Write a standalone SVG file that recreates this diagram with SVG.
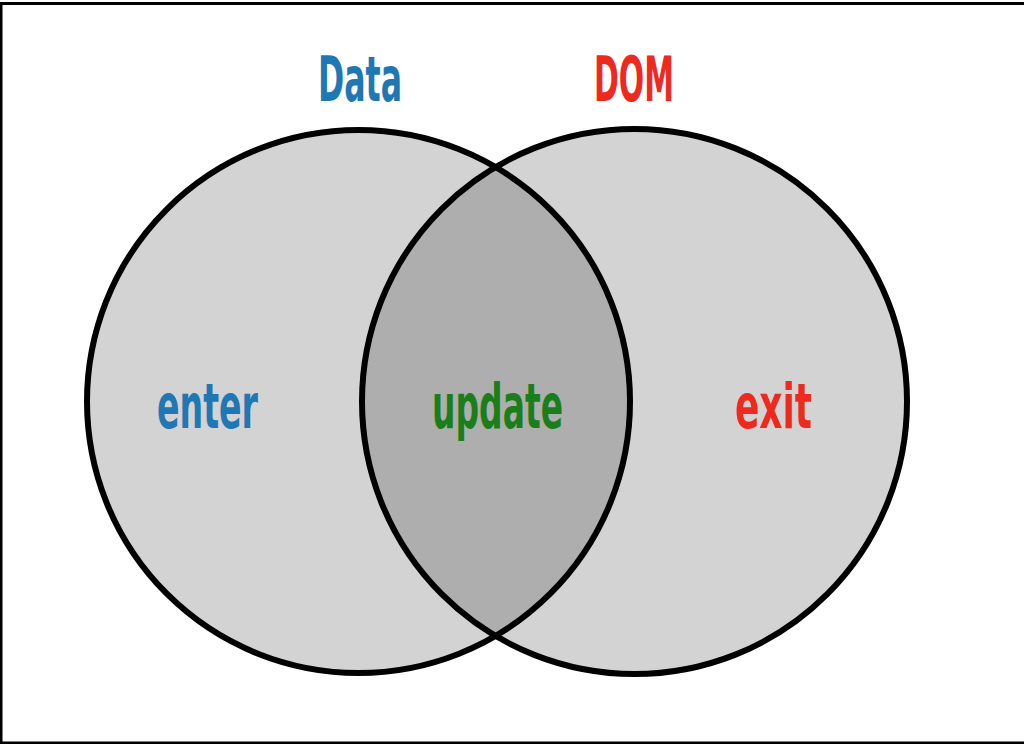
<svg xmlns="http://www.w3.org/2000/svg" width="1024" height="744" viewBox="0 0 1024 744">
<defs>
<style>
.lbl{font-family:"DejaVu Sans Condensed","DejaVu Sans",sans-serif;font-weight:bold;font-size:62px;font-stretch:condensed}
.circ{fill:#d3d3d3;stroke:none}
.edge{fill:none;stroke:#000;stroke-width:6}
</style>
<clipPath id="clipL"><circle cx="358.5" cy="401.5" r="271.5"/></clipPath>
</defs>
<rect x="0" y="0" width="1024" height="744" fill="#fff"/>
<path d="M1 744 V3.5 H1024 M0 743 H1024" fill="none" stroke="#000" stroke-width="3"/>
<g id="data-set">
<circle class="circ" cx="358.5" cy="401.5" r="271.5"/>
</g>
<g id="dom-set">
<circle class="circ" cx="634.5" cy="401.5" r="272.5"/>
</g>
<g id="intersection">
<circle cx="634.5" cy="401.5" r="272.5" fill="#aeaeae" clip-path="url(#clipL)"/>
</g>
<g id="outlines">
<circle class="edge" cx="358.5" cy="401.5" r="271.5"/>
<circle class="edge" cx="634.5" cy="401.5" r="272.5"/>
</g>
<g id="labels">
<text class="lbl" x="318" y="101" fill="#1f77b4" textLength="84" lengthAdjust="spacingAndGlyphs">Data</text>
<text class="lbl" x="594" y="101" fill="#ee2a1f" textLength="80" lengthAdjust="spacingAndGlyphs">DOM</text>
<text class="lbl" x="157" y="428" fill="#1f77b4" textLength="101" lengthAdjust="spacingAndGlyphs">enter</text>
<text class="lbl" x="432" y="428" fill="#1a7f1a" textLength="131" lengthAdjust="spacingAndGlyphs">update</text>
<text class="lbl" x="735" y="428" fill="#ee2a1f" textLength="77" lengthAdjust="spacingAndGlyphs">exit</text>
</g>
</svg>
